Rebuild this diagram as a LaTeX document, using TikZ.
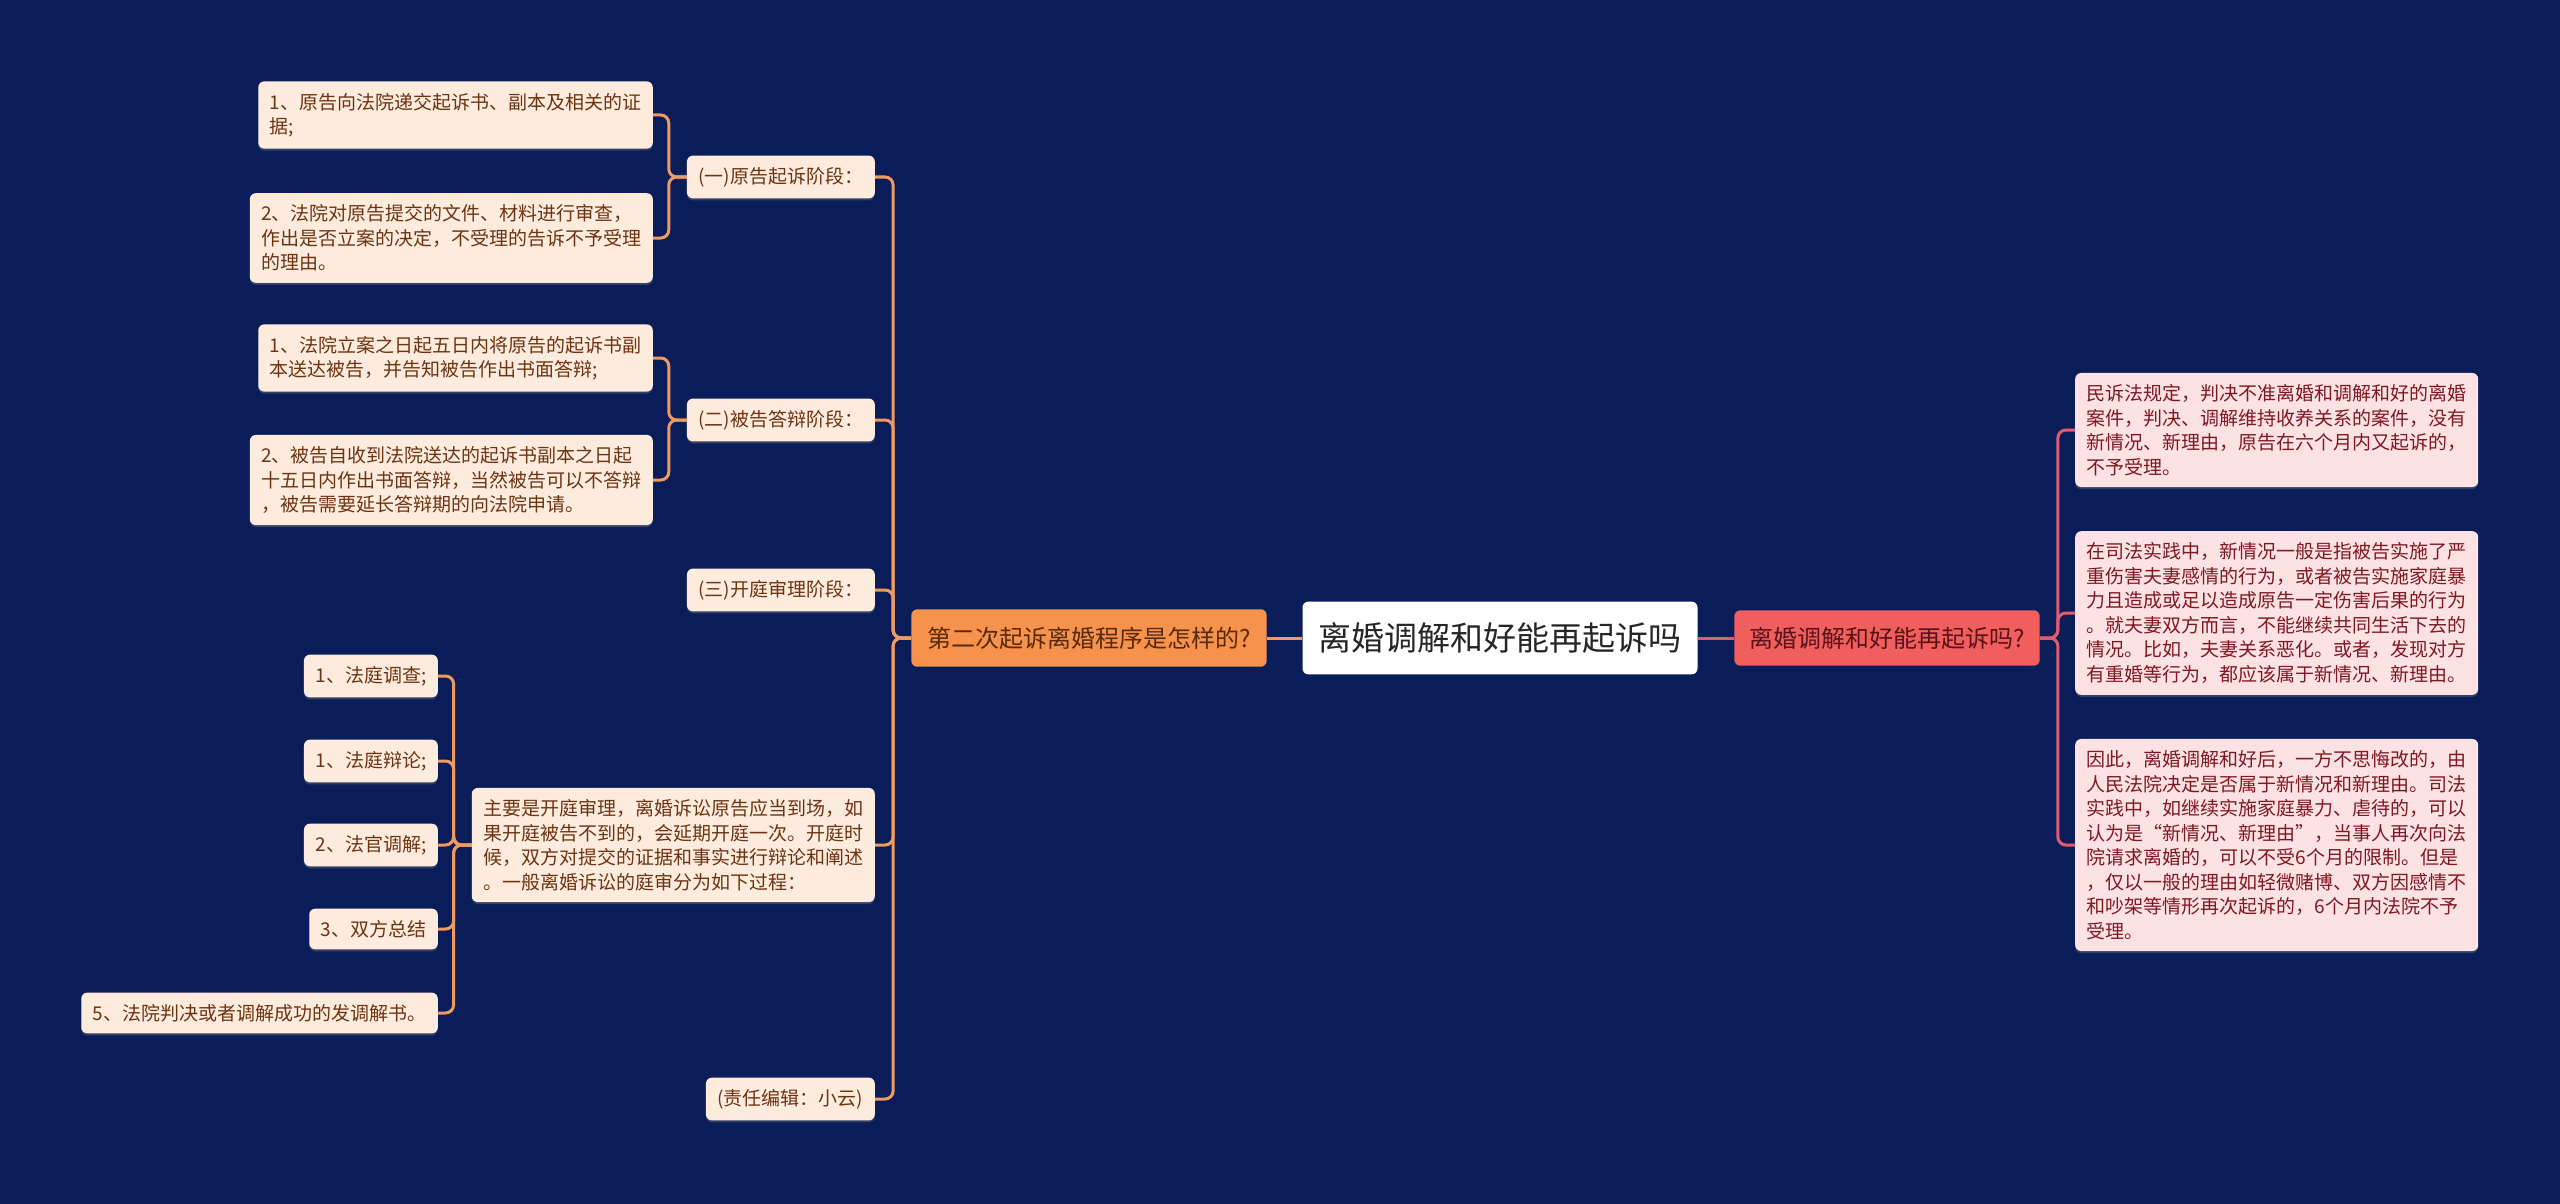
\documentclass[tikz,border=0pt]{standalone}
\usepackage{fontspec}
\setmainfont{Noto Sans CJK SC}
\usetikzlibrary{shadows}

\definecolor{bgnavy}{RGB}{11,29,88}
\definecolor{lfill}{RGB}{253,236,222}
\definecolor{ltext}{RGB}{110,52,18}
\definecolor{lline}{RGB}{238,154,98}
\definecolor{lmain}{RGB}{247,146,76}
\definecolor{rfill}{RGB}{253,226,228}
\definecolor{rtext}{RGB}{128,24,34}
\definecolor{rline}{RGB}{224,92,112}
\definecolor{rmain}{RGB}{240,94,94}

\begin{document}
\begin{tikzpicture}[x=1pt, y=-1pt,
  box/.style={rounded corners=6pt, align=left, inner xsep=11.5pt, inner ysep=11.5pt,
    font=\fontsize{19}{24.5}\selectfont,
    drop shadow={shadow xshift=0pt, shadow yshift=-2pt, opacity=0.35}},
  lbox/.style={box, fill=lfill, text=ltext},
  rbox/.style={box, fill=rfill, text=rtext},
  lwire/.style={draw=lline, line width=3pt, rounded corners=8pt},
  rwire/.style={draw=rline, line width=3pt, rounded corners=8pt}]

  % Parameters
  \def\gap{18}      % box edge to trunk
  \def\xleaf{653}   % right edge of the outer left boxes
  \def\xstage{875}  % right edge of the stage boxes
  \def\xstep{438}   % right edge of the court steps

  \useasboundingbox[fill=bgnavy] (0,0) rectangle (2560,1204);

  % Centre and the two main topics
  \node[fill=white, text=black!85, rounded corners=6pt, inner xsep=16pt, inner ysep=21pt,
    font=\fontsize{33}{38}\selectfont] (root) at (1500,638) {离婚调解和好能再起诉吗};
  \node[fill=lmain, text=ltext!80!black, rounded corners=6pt, inner xsep=16pt, inner ysep=17.5pt,
    font=\fontsize{24}{28}\selectfont] (proc) at (1089,638) {第二次起诉离婚程序是怎样的?};
  \node[fill=rmain, text=rtext!70!black, rounded corners=6pt, inner xsep=15pt, inner ysep=16.5pt,
    font=\fontsize{24}{28}\selectfont] (again) at (1887,638) {离婚调解和好能再起诉吗?};

  \draw[lwire] (root.west) -- (proc.east);
  \draw[rwire] (root.east) -- (again.west);

  % Stages of the second suit
  \node[lbox, anchor=east] (s1) at (\xstage,177) {(一)原告起诉阶段：};
  \node[lbox, anchor=east] (s2) at (\xstage,420) {(二)被告答辩阶段：};
  \node[lbox, anchor=east] (s3) at (\xstage,590) {(三)开庭审理阶段：};
  \node[lbox, anchor=east] (s4) at (\xstage,845) {主要是开庭审理，离婚诉讼原告应当到场，如\\果开庭被告不到的，会延期开庭一次。开庭时\\候，双方对提交的证据和事实进行辩论和阐述\\。一般离婚诉讼的庭审分为如下过程：};
  \node[lbox, anchor=east] (s5) at (\xstage,1099) {(责任编辑：小云)};

  \foreach \s in {s1,s2,s3,s4,s5}
    \draw[lwire] (proc.west) -- ++(-\gap,0) |- (\s.east);

  % Plaintiff files the suit
  \node[lbox, anchor=east] (a1) at (\xleaf,115) {1、原告向法院递交起诉书、副本及相关的证\\据;};
  \node[lbox, anchor=east] (a2) at (\xleaf,238) {2、法院对原告提交的文件、材料进行审查，\\作出是否立案的决定，不受理的告诉不予受理\\的理由。};

  % Defendant answers
  \node[lbox, anchor=east] (b1) at (\xleaf,358) {1、法院立案之日起五日内将原告的起诉书副\\本送达被告，并告知被告作出书面答辩;};
  \node[lbox, anchor=east] (b2) at (\xleaf,480) {2、被告自收到法院送达的起诉书副本之日起\\十五日内作出书面答辩，当然被告可以不答辩\\，被告需要延长答辩期的向法院申请。};

  \foreach \c in {a1,a2}
    \draw[lwire] (s1.west) -- ++(-\gap,0) |- (\c.east);
  \foreach \c in {b1,b2}
    \draw[lwire] (s2.west) -- ++(-\gap,0) |- (\c.east);

  % Steps of the hearing
  \node[lbox, anchor=east] (c1) at (\xstep,676) {1、法庭调查;};
  \node[lbox, anchor=east] (c2) at (\xstep,761) {1、法庭辩论;};
  \node[lbox, anchor=east] (c3) at (\xstep,845) {2、法官调解;};
  \node[lbox, anchor=east] (c4) at (\xstep,929) {3、双方总结};
  \node[lbox, anchor=east] (c5) at (\xstep,1013) {5、法院判决或者调解成功的发调解书。};

  \foreach \c in {c1,c2,c3,c4,c5}
    \draw[lwire] (s4.west) -- ++(-\gap,0) |- (\c.east);

  % Right hand answers
  \node[rbox, anchor=west] (r1) at (2075,430) {民诉法规定，判决不准离婚和调解和好的离婚\\案件，判决、调解维持收养关系的案件，没有\\新情况、新理由，原告在六个月内又起诉的，\\不予受理。};
  \node[rbox, anchor=west] (r2) at (2075,613) {在司法实践中，新情况一般是指被告实施了严\\重伤害夫妻感情的行为，或者被告实施家庭暴\\力且造成或足以造成原告一定伤害后果的行为\\。就夫妻双方而言，不能继续共同生活下去的\\情况。比如，夫妻关系恶化。或者，发现对方\\有重婚等行为，都应该属于新情况、新理由。};
  \node[rbox, anchor=west] (r3) at (2075,845) {因此，离婚调解和好后，一方不思悔改的，由\\人民法院决定是否属于新情况和新理由。司法\\实践中，如继续实施家庭暴力、虐待的，可以\\认为是“新情况、新理由”，当事人再次向法\\院请求离婚的，可以不受6个月的限制。但是\\，仅以一般的理由如轻微赌博、双方因感情不\\和吵架等情形再次起诉的，6个月内法院不予\\受理。};

  \foreach \r in {r1,r2,r3}
    \draw[rwire] (again.east) -- ++(\gap,0) |- (\r.west);

\end{tikzpicture}
\end{document}
